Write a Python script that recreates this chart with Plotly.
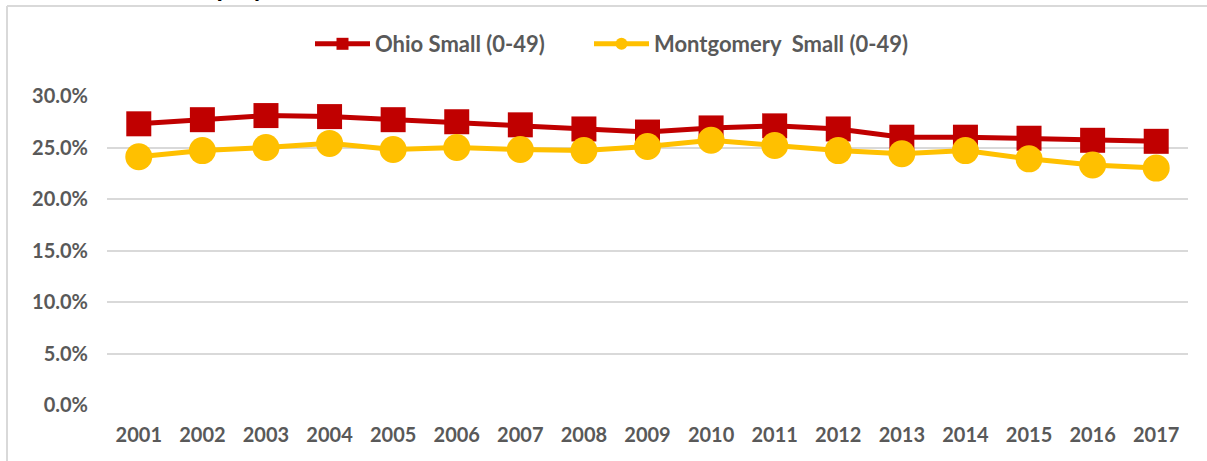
import plotly.graph_objects as go

years = [str(y) for y in range(2001, 2018)]
ohio_small = [27.3, 27.7, 28.1, 28.0, 27.7, 27.5, 27.2, 26.8, 26.5, 26.9, 27.1, 26.8, 26.0, 26.0, 25.9, 25.7, 25.6]
montgomery_small = [24.1, 24.7, 25.0, 25.4, 24.8, 25.0, 24.8, 24.7, 25.1, 25.7, 25.2, 24.7, 24.4, 24.7, 23.9, 23.3, 23.0]
ohio_name = "Ohio Small (0-49)"
mont_name = "Montgomery\u00a0 Small (0-49)"
y_ticks = [0, 5, 10, 15, 20, 25, 30]
y_labels = ["0.0%", "5.0%", "10.0%", "15.0%", "20.0%", "25.0%", "30.0%"]

FONT = "Lato"
GRAY = "#595959"
W, H = 1207, 461

def px(p):
    return p / W

def py(p):
    return (H - p) / H

fig = go.Figure()
fig.add_trace(go.Scatter(
    x=years, y=ohio_small, name=ohio_name, mode="lines+markers",
    line=dict(color="#C00000", width=5),
    marker=dict(symbol="square", size=25, color="#C00000"),
    legend="legend",
))
fig.add_trace(go.Scatter(
    x=years, y=montgomery_small, name=mont_name, mode="lines+markers",
    line=dict(color="#FFC000", width=5),
    marker=dict(symbol="circle", size=27, color="#FFC000"),
    legend="legend2",
))

legend_common = dict(
    orientation="h", xanchor="left", y=py(44), yanchor="middle",
    font=dict(family=FONT, size=22, color=GRAY, weight="bold"),
    itemwidth=55, itemsizing="constant", bgcolor="rgba(0,0,0,0)",
)

fig.update_layout(
    width=W, height=H,
    margin=dict(l=0, r=0, t=0, b=0, autoexpand=False),
    paper_bgcolor="white", plot_bgcolor="white",
    font=dict(family=FONT, color=GRAY),
    showlegend=True,
    legend=dict(x=px(310), **legend_common),
    legend2=dict(x=px(589), **legend_common),
    xaxis=dict(
        domain=[px(107), px(1188)], automargin=False,
        type="category", range=[-0.5, len(years) - 0.5],
        showgrid=False, zeroline=False, showline=False,
        ticks="", tickfont=dict(family=FONT, size=20, color=GRAY, weight="bold"),
        ticklabelstandoff=16,
    ),
    yaxis=dict(
        domain=[py(405), py(96)], automargin=False,
        range=[0, 30], tickvals=y_ticks, ticktext=y_labels,
        showgrid=True, gridcolor="#D9D9D9", gridwidth=2,
        zeroline=False, showline=False, ticks="",
        tickfont=dict(family=FONT, size=20, color=GRAY, weight="bold"),
        ticklabelstandoff=18,
    ),
    shapes=[
        dict(type="line", xref="paper", yref="paper",
             x0=px(7), x1=px(7), y0=py(6), y1=py(470),
             line=dict(color="#D9D9D9", width=2)),
        dict(type="line", xref="paper", yref="paper",
             x0=px(7), x1=px(1210), y0=py(6), y1=py(6),
             line=dict(color="#D9D9D9", width=2)),
    ],
    annotations=[
        dict(text="<b>Employment</b>", xref="paper", yref="paper",
             x=px(178), y=py(5), xanchor="left", yanchor="bottom",
             showarrow=False, font=dict(family=FONT, size=26, color="black")),
    ],
)

fig.write_html(
    "out.html",
    config={"displayModeBar": False},
    post_script="document.body.style.margin='0';document.body.style.overflow='hidden';",
)
